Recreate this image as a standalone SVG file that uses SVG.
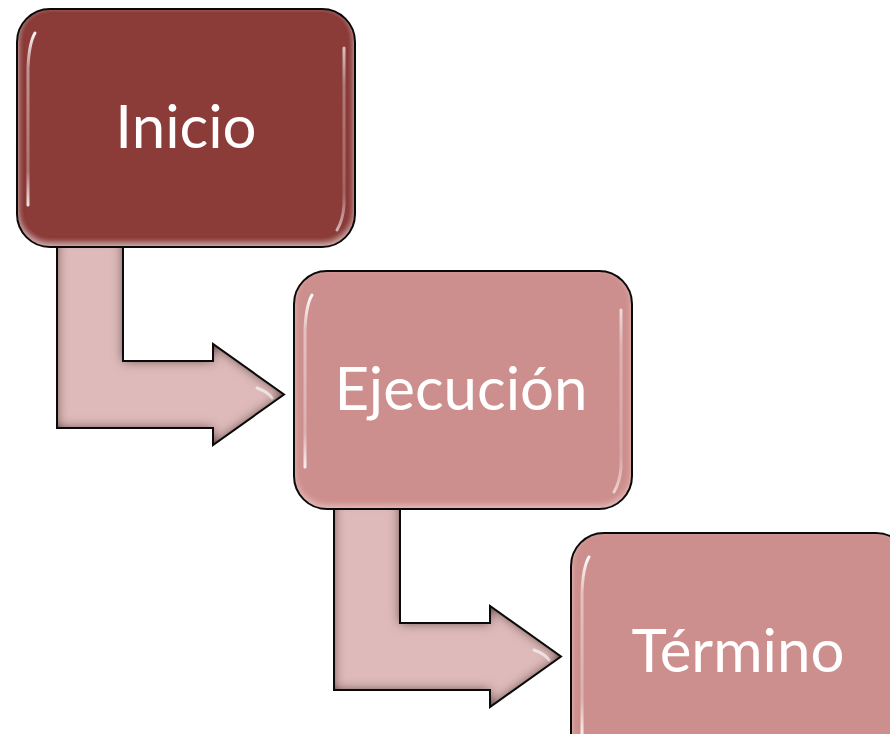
<svg xmlns="http://www.w3.org/2000/svg" width="890" height="734" viewBox="0 0 890 734">
  <defs>
    <style>
      .dark { fill: #8B3A38; }
      .light { fill: #CD8F8D; }
      .afill { fill: #DEBABA; }
      .edge { fill: none; stroke: #0a0a0a; stroke-width: 2; stroke-linejoin: miter; }
      .label { font-family: Lato, "Open Sans", "Liberation Sans", sans-serif; font-weight: 400; font-size: 60px; fill: #FFFFFF; text-anchor: middle; }
      .hl { fill: none; stroke-width: 3; stroke-linecap: round; }
    </style>
    <filter id="bevelArrow" x="-10%" y="-10%" width="120%" height="120%">
      <feGaussianBlur in="SourceAlpha" stdDeviation="6" result="blur"/>
      <feComposite in="SourceAlpha" in2="blur" operator="arithmetic" k2="1.2" k3="-1.2" result="edge"/>
      <feFlood flood-color="#5a3434" flood-opacity="1"/>
      <feComposite in2="edge" operator="in" result="shade"/>
      <feMerge><feMergeNode in="SourceGraphic"/><feMergeNode in="shade"/></feMerge>
    </filter>
    <filter id="bevelBox" x="-5%" y="-5%" width="110%" height="110%">
      <feGaussianBlur in="SourceAlpha" stdDeviation="3" result="blur"/>
      <feOffset in="blur" dy="-3" result="off"/>
      <feComposite in="SourceAlpha" in2="off" operator="arithmetic" k2="1" k3="-1" result="edge"/>
      <feFlood flood-color="#F2CFCD" flood-opacity="0.75"/>
      <feComposite in2="edge" operator="in" result="shine"/>
      <feMerge><feMergeNode in="SourceGraphic"/><feMergeNode in="shine"/></feMerge>
    </filter>
    <linearGradient id="vfade" x1="0" y1="0" x2="0" y2="1">
      <stop offset="0" stop-color="#fff" stop-opacity="0.95"/>
      <stop offset="0.2" stop-color="#fff" stop-opacity="0.45"/>
      <stop offset="0.8" stop-color="#fff" stop-opacity="0.3"/>
      <stop offset="1" stop-color="#fff" stop-opacity="0.85"/>
    </linearGradient>
  </defs>

  <g id="connectors">
    <g id="arrow1">
      <path class="afill" filter="url(#bevelArrow)" d="M57,238 L123,238 L123,361 L213,361 L213,344 L284,394.5 L213,445 L213,428 L57,428 Z"/>
      <path class="hl" stroke="#fff" stroke-opacity="0.6" stroke-width="2" d="M257,388 Q268,392 272,398"/>
      <path class="edge" d="M57,240 L57,428 L213,428 L213,445 L284,394.5 L213,344 L213,361 L123,361 L123,240"/>
    </g>
    <g id="arrow2">
      <path class="afill" filter="url(#bevelArrow)" d="M334,500 L400,500 L400,623 L490,623 L490,606 L561,656.5 L490,707 L490,690 L334,690 Z"/>
      <path class="hl" stroke="#fff" stroke-opacity="0.6" stroke-width="2" d="M534,650 Q545,654 549,660"/>
      <path class="edge" d="M334,502 L334,690 L490,690 L490,707 L561,656.5 L490,606 L490,623 L400,623 L400,502"/>
    </g>
  </g>

  <g id="node-inicio">
    <rect class="dark" filter="url(#bevelBox)" x="17" y="9" width="338" height="238" rx="33" ry="33"/>
    <path class="hl" stroke="url(#vfade)" d="M35,33 Q29,43 28,68 L28,205"/>
    <path class="hl" stroke="url(#vfade)" stroke-opacity="0.7" d="M344,48 L344,205 Q343,220 337,230"/>
    <rect class="edge" x="17" y="9" width="338" height="238" rx="33" ry="33"/>
    <text class="label" x="186" y="148">Inicio</text>
  </g>

  <g id="node-ejecucion">
    <rect class="light" filter="url(#bevelBox)" x="294" y="271" width="338" height="238" rx="33" ry="33"/>
    <path class="hl" stroke="url(#vfade)" d="M312,295 Q306,305 305,330 L305,467"/>
    <path class="hl" stroke="url(#vfade)" stroke-opacity="0.7" d="M621,310 L621,467 Q620,482 614,492"/>
    <rect class="edge" x="294" y="271" width="338" height="238" rx="33" ry="33"/>
    <text class="label" x="461" y="410">Ejecución</text>
  </g>

  <g id="node-termino">
    <rect class="light" filter="url(#bevelBox)" x="571" y="533" width="338" height="238" rx="33" ry="33"/>
    <path class="hl" stroke="url(#vfade)" d="M589,557 Q583,567 582,592 L582,734"/>
    <rect class="edge" x="571" y="533" width="338" height="238" rx="33" ry="33"/>
    <text class="label" x="738" y="672">Término</text>
  </g>
</svg>
